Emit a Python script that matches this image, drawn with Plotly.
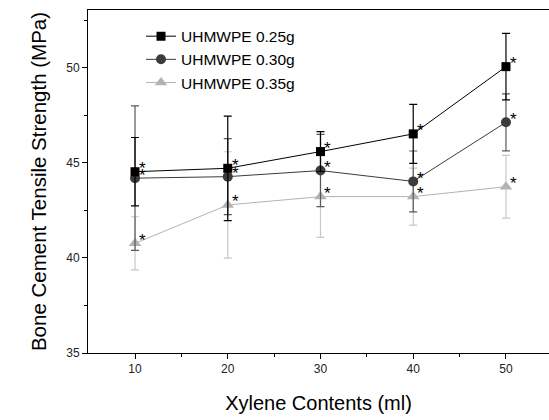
import plotly.graph_objects as go

xylene = [10, 20, 30, 40, 50]
names = ["UHMWPE 0.25g", "UHMWPE 0.30g", "UHMWPE 0.35g"]
s025 = [44.54, 44.72, 45.6, 46.53, 50.07]
e025 = [1.8, 2.75, 1.05, 1.55, 1.75]
s030 = [44.2, 44.28, 44.6, 44.03, 47.14]
e030 = [3.8, 2.0, 1.9, 1.6, 1.5]
s035 = [40.77, 42.79, 43.23, 43.23, 43.75]
e035 = [1.4, 2.8, 2.15, 1.5, 1.65]
star_label = "*"

series = [
    (names[2], s035, e035, "#b3b3b3", "#c8c8c8", "triangle-up", 11),
    (names[1], s030, e030, "#3c3c3c", "#5a5a5a", "circle", 10),
    (names[0], s025, e025, "#000000", "#000000", "square", 9),
]

FONT = "Arial, Liberation Sans"
fig = go.Figure()
for name, y, e, col, ecol, sym, ms in series:
    fig.add_trace(go.Scatter(
        x=xylene, y=y, name=name, mode="lines+markers",
        line=dict(color=col, width=1),
        marker=dict(symbol=sym, size=ms, color=col),
        error_y=dict(type="data", array=e, visible=True, color=ecol, thickness=1.2, width=4),
    ))
    for xi, yi in zip(xylene, y):
        fig.add_annotation(x=xi, y=yi, text=star_label, showarrow=False,
                           xanchor="left", yanchor="middle", xshift=2, yshift=3,
                           font=dict(size=17, color="black", family=FONT))

axis_common = dict(
    showline=True, linecolor="black", linewidth=1, mirror=True,
    ticks="outside", ticklen=5, tickcolor="black", tickwidth=1,
    showgrid=False, zeroline=False,
    tickfont=dict(size=12, color="#222", family=FONT),
)
fig.update_xaxes(range=[4.93, 54.64], tickvals=[10, 20, 30, 40, 50],
                 minor=dict(tickvals=[15, 25, 35, 45], ticks="outside", ticklen=3, tickcolor="black"),
                 title=dict(text="Xylene Contents (ml)", font=dict(size=20, family=FONT, color="black"), standoff=20),
                 **axis_common)
fig.update_yaxes(range=[35, 53.05], tickvals=[35, 40, 45, 50],
                 minor=dict(tickvals=[37.5, 42.5, 47.5, 52.5], ticks="outside", ticklen=3, tickcolor="black"),
                 title=dict(text="Bone Cement Tensile Strength (MPa)", font=dict(size=20.5, family=FONT, color="black"), standoff=14),
                 **axis_common)

fig.update_layout(
    width=549, height=420,
    margin=dict(l=88, r=0, t=10, b=67),
    plot_bgcolor="white", paper_bgcolor="white",
    font=dict(family=FONT, color="black"),
    legend=dict(x=0.115, y=0.972, xanchor="left", yanchor="top", traceorder="reversed",
                bgcolor="rgba(0,0,0,0)", font=dict(size=15.5, family=FONT),
                tracegroupgap=0, itemwidth=30),
    showlegend=True,
)
fig.write_html("out.html")
